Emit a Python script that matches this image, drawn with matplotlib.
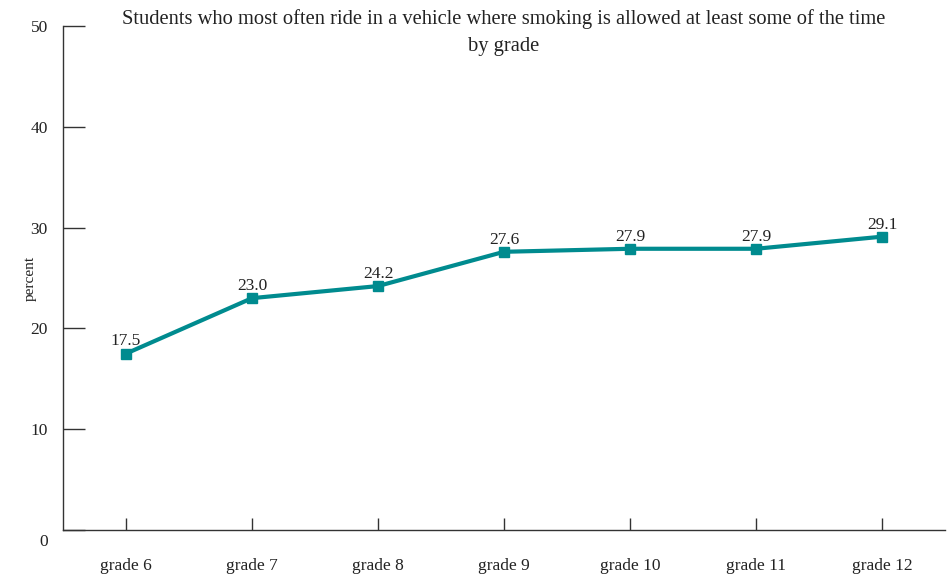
import matplotlib
matplotlib.use("Agg")
import matplotlib.pyplot as plt
from matplotlib.transforms import ScaledTranslation

grades = ["grade 6", "grade 7", "grade 8", "grade 9", "grade 10", "grade 11", "grade 12"]
percent = [17.5, 23.0, 24.2, 27.6, 27.9, 27.9, 29.1]
y_ticks = [0, 10, 20, 30, 40, 50]

plt.rcParams["font.family"] = ["Liberation Serif", "DejaVu Serif"]

fig = plt.figure(figsize=(9.5, 5.75), dpi=100)
ax = fig.add_axes([63 / 950, 1 - 530 / 575, (945 - 63) / 950, (530 - 26) / 575])

teal = "#008b8f"
x = list(range(len(grades)))
ax.plot(x, percent, color=teal, lw=3, marker="s", ms=7.5, zorder=3)
for xi, v in zip(x, percent):
    ax.annotate(f"{v:.1f}", (xi, v), xytext=(0, 3), textcoords="offset points",
                ha="center", va="bottom", fontsize=12.5, color="#222222")

ax.set_xlim(-0.5, len(grades) - 0.5)
ax.set_ylim(0, 50)
ax.set_xticks(x)
ax.set_xticklabels(grades)
ax.set_yticks(y_ticks)
ax.set_yticklabels([str(t) for t in y_ticks])

for side in ("top", "right"):
    ax.spines[side].set_visible(False)
for side in ("left", "bottom"):
    ax.spines[side].set_color("#333333")
    ax.spines[side].set_linewidth(1)

ax.tick_params(axis="y", direction="in", length=16, width=1, color="#333333",
               pad=11, labelsize=12.5, labelcolor="#222222")
ax.tick_params(axis="x", direction="in", length=9, width=1, color="#333333",
               pad=20, labelsize=12.5, labelcolor="#222222")

# the zero label sits a bit below the axis line
zero_lbl = ax.yaxis.get_major_ticks()[0].label1
zero_lbl.set_transform(zero_lbl.get_transform()
                       + ScaledTranslation(0, -10 / 100, fig.dpi_scale_trans))

ax.set_ylabel("percent", fontsize=11, color="#222222")
ax.yaxis.set_label_coords(-0.03, 0.5)

fig.text(504 / 950, 1 - 9 / 575,
         "Students who most often ride in a vehicle where smoking is allowed at least some of the time\nby grade",
         ha="center", va="top", fontsize=14.8, color="#222222", linespacing=1.55)

fig.savefig("out.png", dpi=100)
